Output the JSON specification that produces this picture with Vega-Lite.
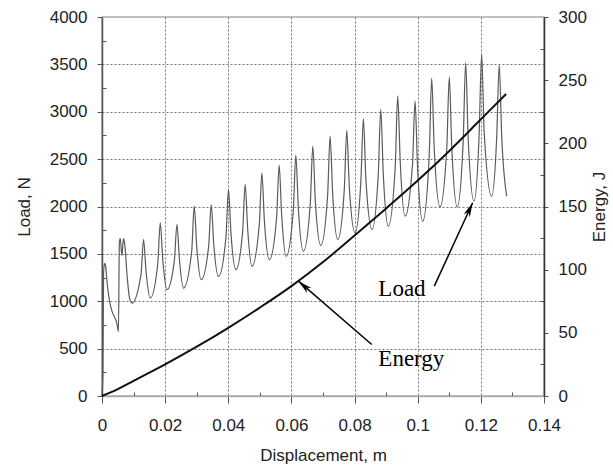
{
  "$schema": "https://vega.github.io/schema/vega-lite/v6.json",
  "width": 442,
  "height": 379,
  "autosize": {"type": "none"},
  "padding": {"left": 102, "top": 17, "right": 69, "bottom": 72},
  "background": "white",
  "config": {
    "font": "Liberation Sans",
    "view": {"stroke": "#aaaaaa", "strokeWidth": 1.5},
    "axis": {"labelFont": "Liberation Sans", "titleFont": "Liberation Sans", "labelFontSize": 17, "titleFontSize": 17, "titleFontWeight": "normal", "labelColor": "#222", "titleColor": "#222"}
  },
  "datasets": {
    "load": [
      {"d":0,"load":0},{"d":0.0003,"load":250},{"d":0.0005,"load":1300},{"d":0.0008,"load":1400},{"d":0.0011,"load":1380},{"d":0.0016,"load":1200},{"d":0.0024,"load":1000},{"d":0.0032,"load":890},{"d":0.004,"load":830},{"d":0.0047,"load":770},{"d":0.0052,"load":680},{"d":0.0055,"load":1620},{"d":0.0058,"load":1660},{"d":0.0063,"load":1480},{"d":0.0068,"load":1660},{"d":0.0072,"load":1600},{"d":0.008,"load":1250},{"d":0.0088,"load":1020},
      {"d":0.00949,"load":981},{"d":0.01236,"load":1283},{"d":0.01316,"load":1651},{"d":0.01396,"load":1312},
      {"d":0.01529,"load":1034},{"d":0.01765,"load":1391},{"d":0.01845,"load":1827},{"d":0.01925,"load":1439},
      {"d":0.02057,"load":1122},{"d":0.02293,"load":1432},{"d":0.02373,"load":1810},{"d":0.02453,"load":1441},
      {"d":0.02582,"load":1139},{"d":0.02841,"load":1528},{"d":0.02921,"load":2003},{"d":0.03001,"load":1576},
      {"d":0.03142,"load":1227},{"d":0.03379,"load":1584},{"d":0.03459,"load":2021},{"d":0.03539,"load":1604},
      {"d":0.0369,"load":1262},{"d":0.03926,"load":1675},{"d":0.04006,"load":2180},{"d":0.04086,"load":1714},
      {"d":0.04241,"load":1333},{"d":0.04455,"load":1738},{"d":0.04535,"load":2233},{"d":0.04615,"load":1757},
      {"d":0.04747,"load":1368},{"d":0.04983,"load":1813},{"d":0.05063,"load":2356},{"d":0.05143,"load":1852},
      {"d":0.05304,"load":1439},{"d":0.05531,"load":1888},{"d":0.05611,"load":2437},{"d":0.05691,"load":1907},
      {"d":0.05832,"load":1474},{"d":0.06059,"load":1955},{"d":0.06139,"load":2543},{"d":0.06219,"load":1984},
      {"d":0.0638,"load":1527},{"d":0.06597,"load":2027},{"d":0.06677,"load":2638},{"d":0.06757,"load":2060},
      {"d":0.0693,"load":1587},{"d":0.07145,"load":2108},{"d":0.07225,"load":2744},{"d":0.07305,"load":2143},
      {"d":0.07468,"load":1651},{"d":0.07673,"load":2170},{"d":0.07753,"load":2804},{"d":0.07833,"load":2208},
      {"d":0.08016,"load":1721},{"d":0.08199,"load":2264},{"d":0.08279,"load":2928},{"d":0.08359,"load":2284},
      {"d":0.08554,"load":1757},{"d":0.08749,"load":2328},{"d":0.08829,"load":3026},{"d":0.08909,"load":2347},
      {"d":0.0907,"load":1792},{"d":0.09287,"load":2411},{"d":0.09367,"load":3167},{"d":0.09447,"load":2469},
      {"d":0.09598,"load":1898},{"d":0.09835,"load":2445},{"d":0.09915,"load":3114},{"d":0.09995,"load":2416},
      {"d":0.10158,"load":1844},{"d":0.10363,"load":2524},{"d":0.10443,"load":3354},{"d":0.10523,"load":2607},
      {"d":0.10706,"load":1996},{"d":0.1092,"load":2613},{"d":0.11,"load":3368},{"d":0.1108,"load":2613},
      {"d":0.11253,"load":1996},{"d":0.11439,"load":2682},{"d":0.11519,"load":3520},{"d":0.11599,"load":2715},
      {"d":0.11782,"load":2056},{"d":0.11945,"load":2754},{"d":0.12025,"load":3608},{"d":0.12105,"load":2784},
      {"d":0.12342,"load":2109},{"d":0.12502,"load":2733},{"d":0.12582,"load":3495},{"d":0.12662,"load":2733},
      {"d":0.12817,"load":2109}
    ],
    "energy": [
      {"d":0,"energy":0},{"d":0.005,"energy":5.5},{"d":0.01,"energy":12},{"d":0.02,"energy":25},{"d":0.03,"energy":39},{"d":0.04,"energy":54},{"d":0.05,"energy":70},{"d":0.06,"energy":87},{"d":0.07,"energy":106},{"d":0.08,"energy":127},{"d":0.09,"energy":148.5},{"d":0.1,"energy":170.5},{"d":0.11,"energy":194},{"d":0.12,"energy":219},{"d":0.128,"energy":239}
    ],
    "arrows": [
      {"d":0.10525,"y":1159,"d2":0.1174,"y2":2039},
      {"d":0.08544,"y":544,"d2":0.06222,"y2":1212}
    ],
    "heads": [
      {"d":0.1174,"y":2039,"ang":24.7},
      {"d":0.06222,"y":1212,"ang":310.8}
    ],
    "labels": [
      {"d":0.08753,"y":1053,"label":"Load"},
      {"d":0.08753,"y":315,"label":"Energy"}
    ]
  },
  "encoding": {
    "x": {"field": "d", "type": "quantitative", "scale": {"domain": [0, 0.14], "nice": false},
      "axis": {"title": "Displacement, m", "values": [0,0.01,0.02,0.03,0.04,0.05,0.06,0.07,0.08,0.09,0.1,0.11,0.12,0.13,0.14],
        "format": "~g", "labelFlush": false, "labelOverlap": false,
        "labelExpr": "round(datum.value*100) % 2 == 1 ? '' : datum.label",
        "labelPadding": 14, "titlePadding": 14, "domainColor": "#aaaaaa", "domainWidth": 1.5,
        "tickColor": "#555", "tickSize": {"condition": {"test": "round(datum.value*100) % 2 == 1", "value": -4}, "value": 7},
        "grid": true, "gridColor": "#666", "gridDash": [2, 2],
        "gridOpacity": {"condition": {"test": "round(datum.value*100) % 2 == 1 || datum.value == 0 || datum.value > 0.13", "value": 0}, "value": 0.9}}}
  },
  "layer": [
    {
      "data": {"name": "load"},
      "mark": {"type": "line", "color": "#5a5a5a", "strokeWidth": 1.2, "interpolate": "monotone"},
      "encoding": {
        "y": {"field": "load", "type": "quantitative", "scale": {"domain": [0, 4000], "nice": false},
          "axis": {"title": "Load, N", "orient": "left", "values": [0,250,500,750,1000,1250,1500,1750,2000,2250,2500,2750,3000,3250,3500,3750,4000],
            "labelExpr": "datum.value % 500 == 0 ? datum.label : ''", "format": "d", "labelFlush": false,
            "labelPadding": 10, "titlePadding": 16, "domainColor": "#555", "domainWidth": 1.5,
            "tickColor": "#555", "tickSize": {"condition": {"test": "datum.value % 500 != 0", "value": -4}, "value": 5},
            "grid": true, "gridColor": "#666", "gridDash": [2, 2],
            "gridOpacity": {"condition": {"test": "datum.value % 500 != 0 || datum.value == 0 || datum.value == 4000", "value": 0}, "value": 0.9}}}
      }
    },
    {
      "data": {"name": "energy"},
      "mark": {"type": "line", "color": "#111", "strokeWidth": 2, "interpolate": "monotone"},
      "encoding": {
        "y": {"field": "energy", "type": "quantitative", "scale": {"domain": [0, 300], "nice": false},
          "axis": {"title": "Energy, J", "orient": "right", "titleAngle": 270, "values": [0,25,50,75,100,125,150,175,200,225,250,275,300],
            "labelExpr": "datum.value % 50 == 0 ? datum.label : ''", "labelFlush": false,
            "labelPadding": 10, "titlePadding": 22, "domainColor": "#333", "domainWidth": 1.5,
            "tickColor": "#555", "tickSize": {"condition": {"test": "datum.value % 50 != 0", "value": -4}, "value": 4},
            "grid": false}}
      }
    },
    {
      "data": {"name": "arrows"},
      "mark": {"type": "rule", "color": "#000", "strokeWidth": 1.5},
      "encoding": {
        "x2": {"field": "d2"},
        "y": {"field": "y", "type": "quantitative", "scale": {"domain": [0, 4000], "nice": false}, "axis": null},
        "y2": {"field": "y2"}
      }
    },
    {
      "data": {"name": "heads"},
      "mark": {"type": "point", "filled": true, "color": "#000", "opacity": 1, "size": 225, "shape": "M0,0 L0.45,1.9 L0,1.35 L-0.45,1.9 Z"},
      "encoding": {
        "y": {"field": "y", "type": "quantitative", "scale": {"domain": [0, 4000], "nice": false}, "axis": null},
        "angle": {"field": "ang", "type": "quantitative", "scale": null}
      }
    },
    {
      "data": {"name": "labels"},
      "mark": {"type": "text", "font": "Liberation Serif", "fontSize": 23, "align": "left", "baseline": "alphabetic", "color": "#000"},
      "encoding": {
        "y": {"field": "y", "type": "quantitative", "scale": {"domain": [0, 4000], "nice": false}, "axis": null},
        "text": {"field": "label"}
      }
    }
  ],
  "resolve": {"scale": {"y": "independent"}, "axis": {"y": "independent"}}
}
